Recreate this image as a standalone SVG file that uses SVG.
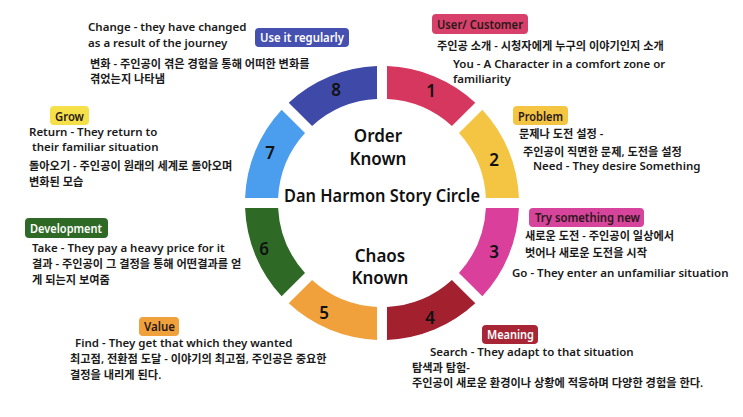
<svg xmlns="http://www.w3.org/2000/svg" xmlns:xlink="http://www.w3.org/1999/xlink" width="743" height="417" viewBox="0 0 743 417">
<defs>
<path id="seg" d="M387,66.09 A137,137 0 0 1 475.28,102.66 L451.92,126.01 A104,104 0 0 0 387.01,99.12 Z"/>
<style>
text{font-family:"Noto Sans","Noto Sans CJK KR",sans-serif;}
.num{font-size:17px;font-weight:600;fill:#111;text-anchor:middle;}
.badge-t{font-size:12px;font-weight:600;}
.dark{fill:#2a1818;}
.light{fill:#ffffff;}
.en{font-size:11.5px;font-weight:600;fill:#1a1a1a;}
.ko{font-size:11.2px;font-weight:600;fill:#1a1a1a;}
.center{font-size:17px;font-weight:600;fill:#111;text-anchor:middle;}
</style>
</defs>
<rect width="743" height="417" fill="#ffffff"/>

<g id="stage1">
<use xlink:href="#seg" fill="#d6375f"/>
<text class="num" x="431" y="97">1</text>
<rect x="432" y="14" width="96" height="20" rx="4" fill="#d6406a"/>
<text class="badge-t dark" x="437" y="29" textLength="86" lengthAdjust="spacingAndGlyphs">User/ Customer</text>
<text class="ko" x="437" y="50">주인공 소개 - 시청자에게 누구의 이야기인지 소개</text>
<text class="en" x="453" y="68">You - A Character in a comfort zone or</text>
<text class="en" x="453" y="83">familiarity</text>
</g>

<g id="stage2">
<use xlink:href="#seg" fill="#f4c443" transform="rotate(45 382 203)"/>
<text class="num" x="494" y="166">2</text>
<rect x="513" y="106" width="55" height="19" rx="4" fill="#f4c443"/>
<text class="badge-t dark" x="518" y="121" textLength="45" lengthAdjust="spacingAndGlyphs">Problem</text>
<text class="ko" x="519" y="138">문제나 도전 설정 -</text>
<text class="ko" x="523" y="156">주인공이 직면한 문제, 도전을 설정</text>
<text class="en" x="533" y="170">Need - They desire Something</text>
</g>

<g id="stage3">
<use xlink:href="#seg" fill="#d93f9b" transform="rotate(90 382 203)"/>
<text class="num" x="494" y="258">3</text>
<rect x="529" y="208" width="115" height="19" rx="4" fill="#d6449c"/>
<text class="badge-t dark" x="535" y="222" textLength="105" lengthAdjust="spacingAndGlyphs">Try something new</text>
<text class="ko" x="525" y="240">새로운 도전 - 주인공이 일상에서</text>
<text class="ko" x="525" y="257">벗어나 새로운 도전을 시작</text>
<text class="en" x="512" y="277">Go - They enter an unfamiliar situation</text>
</g>

<g id="stage4">
<use xlink:href="#seg" fill="#a3202f" transform="rotate(135 382 203)"/>
<text class="num" x="430" y="324">4</text>
<rect x="482" y="325" width="56" height="19" rx="4" fill="#a82535"/>
<text class="badge-t light" x="487" y="339" textLength="47" lengthAdjust="spacingAndGlyphs">Meaning</text>
<text class="en" x="430" y="356">Search - They adapt to that situation</text>
<text class="ko" x="412" y="372">탐색과 탐험-</text>
<text class="ko" x="412" y="387">주인공이 새로운 환경이나 상황에 적응하며 다양한 경험을 한다.</text>
</g>

<g id="stage5">
<use xlink:href="#seg" fill="#f0a13c" transform="rotate(180 382 203)"/>
<text class="num" x="324" y="319">5</text>
<rect x="139" y="317" width="40" height="19" rx="4" fill="#f0a13c"/>
<text class="badge-t dark" x="144" y="331" textLength="31" lengthAdjust="spacingAndGlyphs">Value</text>
<text class="en" x="75" y="347">Find - They get that which they wanted</text>
<text class="ko" x="70" y="363">최고점, 전환점 도달 - 이야기의 최고점, 주인공은 중요한</text>
<text class="ko" x="70" y="379">결정을 내리게 된다.</text>
</g>

<g id="stage6">
<use xlink:href="#seg" fill="#2e6a26" transform="rotate(225 382 203)"/>
<text class="num" x="264" y="255">6</text>
<rect x="25" y="218" width="83" height="20" rx="4" fill="#2e6a26"/>
<text class="badge-t light" x="30" y="233" textLength="72" lengthAdjust="spacingAndGlyphs">Development</text>
<text class="en" x="32" y="252">Take - They pay a heavy price for it</text>
<text class="ko" x="32" y="268">결과 - 주인공이 그 결정을 통해 어떤결과를 얻</text>
<text class="ko" x="32" y="284">게 되는지 보여줌</text>
</g>

<g id="stage7">
<use xlink:href="#seg" fill="#4b9ded" transform="rotate(270 382 203)"/>
<text class="num" x="270" y="159">7</text>
<rect x="50" y="106" width="39" height="19" rx="4" fill="#f6e04a"/>
<text class="badge-t dark" x="55" y="121" textLength="29" lengthAdjust="spacingAndGlyphs">Grow</text>
<text class="en" x="29" y="136">Return - They return to</text>
<text class="en" x="32" y="151">their familiar situation</text>
<text class="ko" x="29" y="170">돌아오기 - 주인공이 원래의 세계로 돌아오며</text>
<text class="ko" x="29" y="186">변화된 모습</text>
</g>

<g id="stage8">
<use xlink:href="#seg" fill="#3f4aa8" transform="rotate(315 382 203)"/>
<text class="num" x="336" y="96">8</text>
<rect x="255" y="28" width="94" height="19" rx="4" fill="#4550b0"/>
<text class="badge-t light" x="260" y="42" textLength="84" lengthAdjust="spacingAndGlyphs">Use it regularly</text>
<text class="en" x="88" y="31">Change - they have changed</text>
<text class="en" x="88" y="47">as a result of the journey</text>
<text class="ko" x="90" y="68">변화 - 주인공이 겪은 경험을 통해 어떠한 변화를</text>
<text class="ko" x="90" y="83">겪었는지 나타냄</text>
</g>

<g id="center">
<text class="center" x="378" y="142">Order</text>
<text class="center" x="378" y="165">Known</text>
<text class="center" x="382" y="202" textLength="196" lengthAdjust="spacingAndGlyphs">Dan Harmon Story Circle</text>
<text class="center" x="380" y="262">Chaos</text>
<text class="center" x="380" y="284">Known</text>
</g>
</svg>
